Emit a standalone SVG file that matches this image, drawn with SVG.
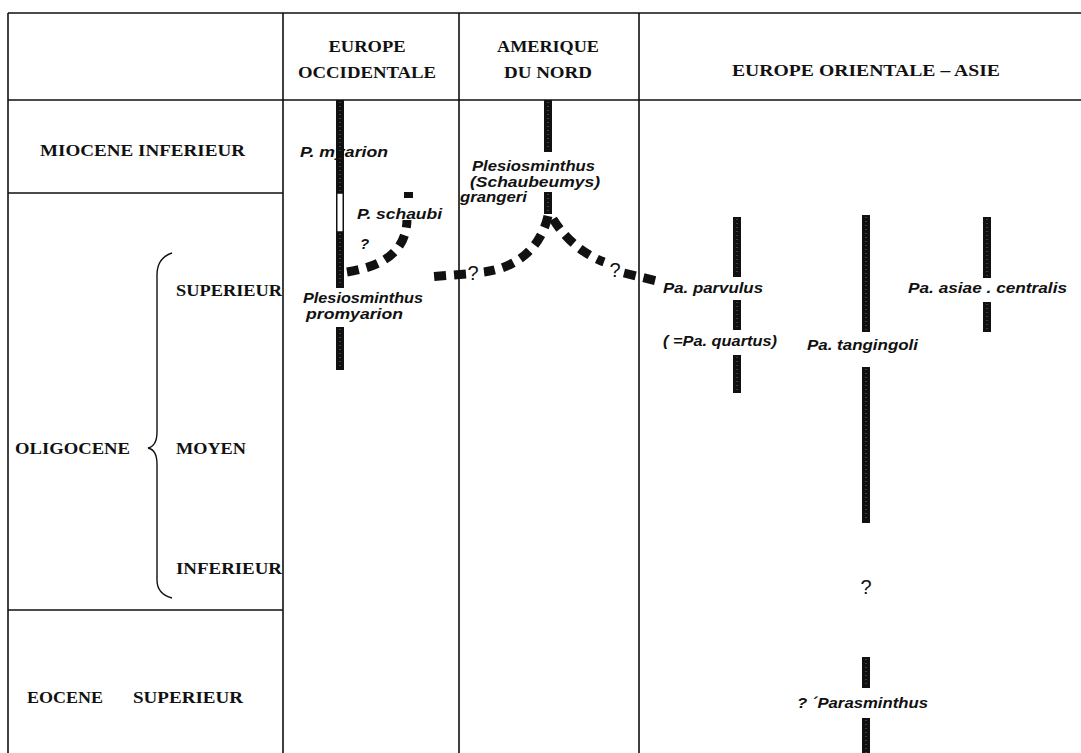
<svg xmlns="http://www.w3.org/2000/svg" width="1081" height="753" viewBox="0 0 1081 753">
<style>
.grid{stroke:#111;stroke-width:1.6;fill:none}
.hdr{font-family:"Liberation Serif",serif;font-weight:bold;font-size:17px;fill:#111}
.lab{font-family:"Liberation Serif",serif;font-weight:bold;font-size:17px;fill:#111}
.sp{font-family:"Liberation Sans Narrow","Liberation Sans",sans-serif;font-weight:bold;font-style:italic;font-size:15px;fill:#111}
.bar{fill:#111}
.tex{stroke:#6a6a6a;stroke-width:1;stroke-dasharray:1 3;fill:none}
.dash{stroke:#111;stroke-width:9;fill:none;stroke-dasharray:12 8}
.q{font-family:"Liberation Sans",sans-serif;font-size:20px;fill:#111}
</style>
<rect width="1081" height="753" fill="#fff"/>
<g id="grid" class="grid">
<path d="M8,13H1081M8,100H1081M8,13V753M283,13V753M459,13V753M639,13V753M8,193H283M8,610H283"/>
<path d="M172,253 Q157,258 157,275 V432 Q157,446 148,448 Q157,450 157,464 V580 Q157,594 172,598" stroke-width="1.4"/>
</g>
<g id="headers">
<text class="hdr" x="367" y="52" text-anchor="middle" textLength="77" lengthAdjust="spacingAndGlyphs">EUROPE</text>
<text class="hdr" x="367" y="78" text-anchor="middle" textLength="138" lengthAdjust="spacingAndGlyphs">OCCIDENTALE</text>
<text class="hdr" x="548" y="52" text-anchor="middle" textLength="102" lengthAdjust="spacingAndGlyphs">AMERIQUE</text>
<text class="hdr" x="548" y="78" text-anchor="middle" textLength="88" lengthAdjust="spacingAndGlyphs">DU NORD</text>
<text class="hdr" x="866" y="76" text-anchor="middle" textLength="268" lengthAdjust="spacingAndGlyphs">EUROPE ORIENTALE – ASIE</text>
</g>
<g id="periods">
<text class="lab" x="40" y="156" textLength="205" lengthAdjust="spacingAndGlyphs">MIOCENE INFERIEUR</text>
<text class="lab" x="176" y="296" textLength="106" lengthAdjust="spacingAndGlyphs">SUPERIEUR</text>
<text class="lab" x="15" y="454" textLength="115" lengthAdjust="spacingAndGlyphs">OLIGOCENE</text>
<text class="lab" x="176" y="454" textLength="70" lengthAdjust="spacingAndGlyphs">MOYEN</text>
<text class="lab" x="176" y="574" textLength="106" lengthAdjust="spacingAndGlyphs">INFERIEUR</text>
<text class="lab" x="27" y="703" textLength="76" lengthAdjust="spacingAndGlyphs">EOCENE</text>
<text class="lab" x="133" y="703" textLength="110" lengthAdjust="spacingAndGlyphs">SUPERIEUR</text>
</g>
<g id="europe-occ">
<rect class="bar" x="336" y="100" width="8" height="93"/>
<rect x="336.75" y="193" width="6.5" height="39" fill="#fff" stroke="#111" stroke-width="1.5"/>
<rect class="bar" x="336" y="232" width="8" height="56"/>
<rect class="bar" x="336" y="327" width="8" height="43"/>
<path class="tex" d="M340,102V191M340,234V286M340,329V368"/>
<text class="sp" x="300" y="157" textLength="88" lengthAdjust="spacingAndGlyphs">P. myarion</text>
<text class="sp" x="357" y="219" textLength="85" lengthAdjust="spacingAndGlyphs">P. schaubi</text>
<text class="sp" x="360" y="249" font-size="11">?</text>
<text class="sp" x="303" y="303" font-size="14" textLength="120" lengthAdjust="spacingAndGlyphs">Plesiosminthus</text>
<text class="sp" x="306" y="319" font-size="14" textLength="97" lengthAdjust="spacingAndGlyphs">promyarion</text>
</g>
<g id="amerique">
<rect class="bar" x="544" y="100" width="8" height="52"/>
<rect class="bar" x="544" y="192" width="8" height="22"/>
<path class="tex" d="M548,102V150M548,194V212"/>
<text class="sp" x="472" y="171" textLength="123" lengthAdjust="spacingAndGlyphs">Plesiosminthus</text>
<text class="sp" x="470" y="187" textLength="130" lengthAdjust="spacingAndGlyphs">(Schaubeumys)</text>
<text class="sp" x="460" y="202" textLength="67" lengthAdjust="spacingAndGlyphs">grangeri</text>
</g>
<g id="asie">
<rect class="bar" x="733" y="217" width="8" height="60"/>
<rect class="bar" x="733" y="300" width="8" height="30"/>
<rect class="bar" x="733" y="355" width="8" height="38"/>
<rect class="bar" x="862" y="215" width="8" height="117"/>
<rect class="bar" x="862" y="367" width="8" height="156"/>
<rect class="bar" x="983" y="217" width="8" height="61"/>
<rect class="bar" x="983" y="302" width="8" height="30"/>
<rect class="bar" x="862" y="657" width="8" height="31"/>
<rect class="bar" x="862" y="718" width="8" height="35"/>
<path class="tex" d="M737,219V275M737,302V328M737,357V391M866,217V330M866,369V521M987,219V276M987,304V330M866,659V686M866,720V753"/>
<text class="sp" x="663" y="293" textLength="100" lengthAdjust="spacingAndGlyphs">Pa. parvulus</text>
<text class="sp" x="663" y="346" textLength="114" lengthAdjust="spacingAndGlyphs">( =Pa. quartus)</text>
<text class="sp" x="807" y="350" textLength="111" lengthAdjust="spacingAndGlyphs">Pa. tangingoli</text>
<text class="sp" x="908" y="293" textLength="159" lengthAdjust="spacingAndGlyphs">Pa. asiae . centralis</text>
<text class="q" x="866" y="594" text-anchor="middle" font-size="25">?</text>
<text class="sp" x="797" y="708" textLength="131" lengthAdjust="spacingAndGlyphs">? ´Parasminthus</text>
</g>
<g id="connectors">
<path class="dash" d="M347,272 C372,268 406,258 407,220"/>
<rect x="404" y="192" width="9" height="6" fill="#111"/>
<path class="dash" d="M548,216 C540,250 515,268 484,272"/>
<path class="dash" d="M466,274 L428,277" stroke-dasharray="11 7"/>
<text class="q" x="473" y="280" text-anchor="middle" font-size="21">?</text>
<path class="dash" d="M553,219 C566,240 585,255 604,262"/>
<text class="q" x="615" y="277" text-anchor="middle" font-size="21">?</text>
<path class="dash" d="M624,273 L657,281" stroke-dasharray="12 6"/>
</g>
</svg>
